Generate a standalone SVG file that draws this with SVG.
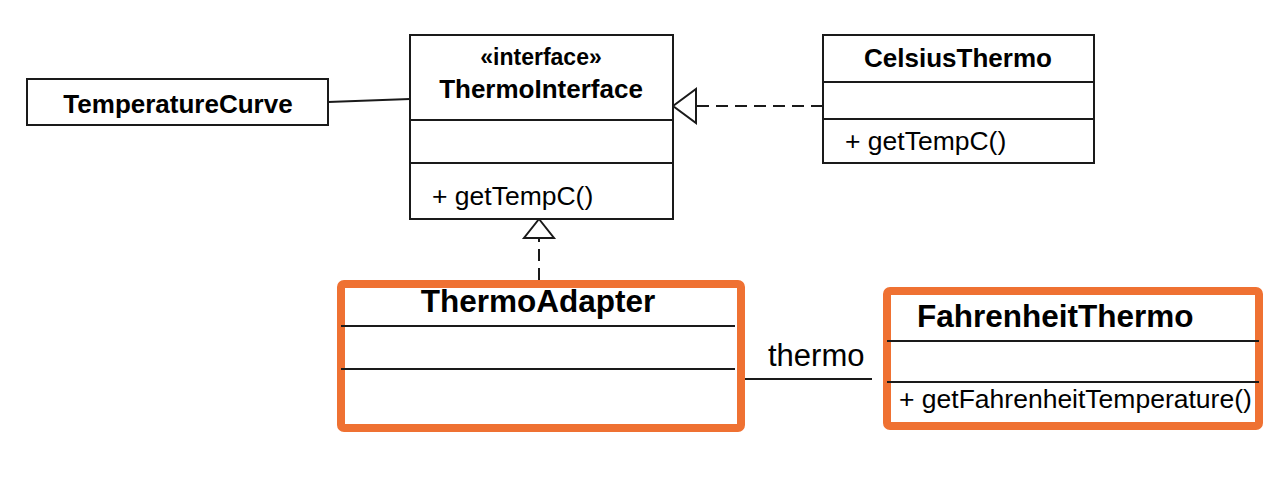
<svg xmlns="http://www.w3.org/2000/svg" width="1288" height="480" viewBox="0 0 1288 480">
<style>
.box{fill:#fff;stroke:#1a1a1a;stroke-width:2}
.div{stroke:#1a1a1a;stroke-width:2}
.hl{fill:#fff;stroke:#EF7132;stroke-width:8}
.t{font-family:"Liberation Sans",Arial,sans-serif;fill:#000}
.b{font-weight:bold}
.c{stroke:#1a1a1a;stroke-width:2;fill:none}
.d{stroke-dasharray:12 7}
.tri{fill:#fff;stroke:#1a1a1a;stroke-width:2}
</style>
<g id="connectors">
  <line class="c" x1="328" y1="102" x2="410" y2="99"/>
  <line class="c d" x1="823" y1="106" x2="696" y2="106"/>
  <polygon class="tri" points="673,106 696,89 696,123"/>
  <line class="c d" x1="539" y1="280" x2="539" y2="238"/>
  <polygon class="tri" points="539,219 524,238 554,238"/>
  <line class="c" x1="742" y1="379" x2="872" y2="379"/>
  <text class="t" x="768" y="366" font-size="31">thermo</text>
</g>
<g id="TemperatureCurve">
  <rect class="box" x="27" y="79" width="301" height="46"/>
  <text class="t b" x="178" y="113" font-size="26" text-anchor="middle">TemperatureCurve</text>
</g>
<g id="ThermoInterface">
  <rect class="box" x="410" y="35" width="263" height="184"/>
  <line class="div" x1="410" y1="120" x2="673" y2="120"/>
  <line class="div" x1="410" y1="163" x2="673" y2="163"/>
  <text class="t b" x="541" y="65" font-size="23" text-anchor="middle">«interface»</text>
  <text class="t b" x="541" y="98" font-size="26" text-anchor="middle">ThermoInterface</text>
  <text class="t" x="432" y="205" font-size="26.5">+ getTempC()</text>
</g>
<g id="CelsiusThermo">
  <rect class="box" x="823" y="35" width="271" height="128"/>
  <line class="div" x1="823" y1="82" x2="1094" y2="82"/>
  <line class="div" x1="823" y1="119" x2="1094" y2="119"/>
  <text class="t b" x="958" y="67" font-size="26" text-anchor="middle">CelsiusThermo</text>
  <text class="t" x="845" y="150" font-size="26.5">+ getTempC()</text>
</g>
<g id="ThermoAdapter">
  <rect class="hl" x="341" y="284" width="400" height="144" rx="3"/>
  <line class="div" x1="341" y1="326" x2="735" y2="326"/>
  <line class="div" x1="341" y1="369" x2="735" y2="369"/>
  <text class="t b" x="538" y="312" font-size="31.5" text-anchor="middle">ThermoAdapter</text>
</g>
<g id="FahrenheitThermo">
  <rect class="hl" x="887" y="291" width="372" height="135" rx="3"/>
  <line class="div" x1="887" y1="341" x2="1259" y2="341"/>
  <line class="div" x1="887" y1="382" x2="1259" y2="382"/>
  <text class="t b" x="917" y="327" font-size="31.5">FahrenheitThermo</text>
  <text class="t" x="899" y="408" font-size="26.5">+ getFahrenheitTemperature()</text>
</g>
</svg>
